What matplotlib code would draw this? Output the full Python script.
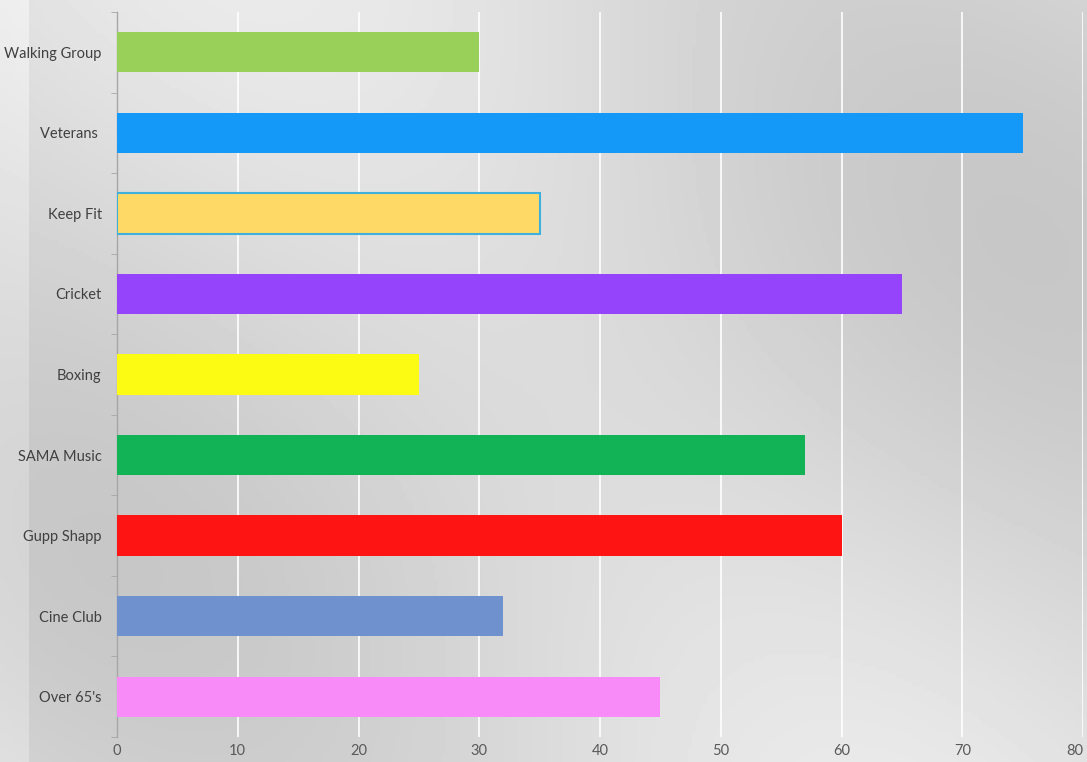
import numpy as np
import matplotlib
matplotlib.use("Agg")
import matplotlib.pyplot as plt

# groups listed bottom to top, as drawn by barh
groups = ["Over 65's", "Cine Club", "Gupp Shapp", "SAMA Music", "Boxing",
          "Cricket", "Keep Fit", "Veterans ", "Walking Group"]
members = [45, 32, 60, 57, 25, 65, 35, 75, 30]
colours = ["#f98bf9", "#6f92cf", "#ff1414", "#12b356", "#fbfb14",
           "#9544fc", "#ffd966", "#1599f8", "#99d05a"]
x_ticks = [0, 10, 20, 30, 40, 50, 60, 70, 80]

plt.rcParams['font.family'] = ['Lato', 'DejaVu Sans']

fig = plt.figure(figsize=(10.87, 7.62), dpi=100)
fig.patch.set_facecolor("#d9d9d9")

# soft grey backdrop standing in for the fabric photo
bg = fig.add_axes([0, 0, 1, 1], zorder=0)
yy, xx = np.mgrid[0:1:200j, 0:1:300j]
shade = 0.85 + 0.04 * np.sin(6 * xx - 3 * yy) + 0.03 * np.cos(4 * yy + 2 * xx)
shade[:, :8] += 0.05
bg.imshow(shade, cmap="gray", vmin=0, vmax=1, aspect="auto", extent=[0, 1, 0, 1])
bg.axis("off")

ax = fig.add_axes([117 / 1087, 25 / 762, 966 / 1087, 725 / 762], zorder=1)
ax.patch.set_alpha(0)

pos = np.arange(len(groups))
bars = ax.barh(pos, members, height=0.5, color=colours, zorder=3)
bars[6].set_edgecolor("#3fb0dc")
bars[6].set_linewidth(1.5)

ax.set_xlim(0, 80)
ax.set_ylim(-0.5, len(groups) - 0.5)
ax.set_xticks(x_ticks)
ax.set_yticks(pos)
ax.set_yticklabels(groups)
ax.set_yticks(np.arange(-0.5, len(groups), 1), minor=True)

ax.grid(axis="x", color="white", linewidth=1.2, zorder=1)
for s in ["top", "right", "bottom"]:
    ax.spines[s].set_visible(False)
ax.spines["left"].set_color("#a6a6a6")
ax.spines["left"].set_linewidth(1)

ax.tick_params(axis="y", which="major", length=0, pad=11, labelsize=10.5, labelcolor="#404040")
ax.tick_params(axis="y", which="minor", length=4, color="#a6a6a6")
ax.tick_params(axis="x", length=0, pad=5, labelsize=10.5, labelcolor="#595959")
for lab in ax.get_xticklabels():
    if lab.get_text() == "80":
        lab.set_horizontalalignment("right")

fig.savefig("out.png", dpi=100, facecolor=fig.get_facecolor())
